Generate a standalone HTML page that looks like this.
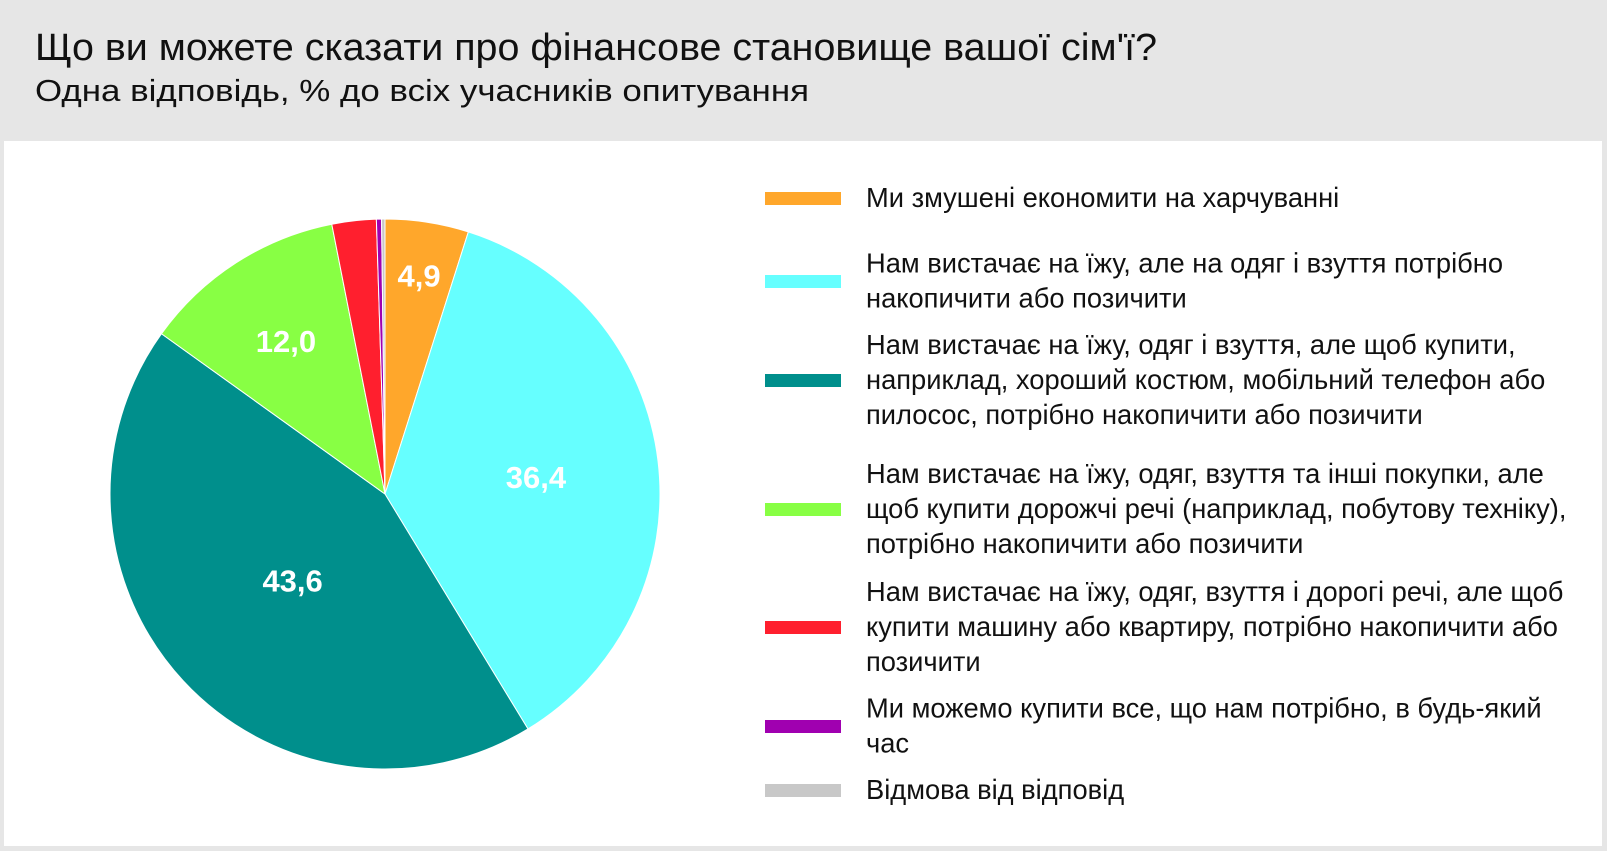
<!DOCTYPE html>
<html><head><meta charset="utf-8">
<style>
body{margin:0;width:1607px;height:851px;background:#e6e6e6;font-family:"Liberation Sans","DejaVu Sans",sans-serif;overflow:hidden;position:relative}
#panel{position:absolute;left:4px;top:141px;width:1598px;height:705px;background:#fff}
svg{position:absolute;left:0;top:0}
</style></head><body>
<div id="panel"></div>
<svg id="chart" width="1607" height="851">
<text x="35" y="60" font-size="38" fill="#111" textLength="1122" lengthAdjust="spacingAndGlyphs">Що ви можете сказати про фінансове становище вашої сім'ї?</text>
<text x="35" y="101" font-size="31" fill="#111" textLength="774" lengthAdjust="spacingAndGlyphs">Одна відповідь, % до всіх учасників опитування</text>
</svg>
<script>
const categories=["Ми змушені економити на харчуванні","Нам вистачає на їжу, але на одяг і взуття потрібно\nнакопичити або позичити","Нам вистачає на їжу, одяг і взуття, але щоб купити,\nнаприклад, хороший костюм, мобільний телефон або\nпилосос, потрібно накопичити або позичити","Нам вистачає на їжу, одяг, взуття та інші покупки, але\nщоб купити дорожчі речі (наприклад, побутову техніку),\nпотрібно накопичити або позичити","Нам вистачає на їжу, одяг, взуття і дорогі речі, але щоб\nкупити машину або квартиру, потрібно накопичити або\nпозичити","Ми можемо купити все, що нам потрібно, в будь-який\nчас","Відмова від відповід"];
const values=[4.9,36.4,43.6,12.0,2.6,0.3,0.2];
const labels=["4,9","36,4","43,6","12,0","","",""];
const colors=["#ffa72b","#66ffff","#008f8c","#88ff44","#ff1f2e","#a000b0","#c8c8c8"];
const labelR=[222,152,126,183,0,0,0];
const legendY=[198,281,380,509,627,726,790];
const svg=document.getElementById('chart');const NS="http://www.w3.org/2000/svg";
const cx=385,cy=494,r=275;
const total=values.reduce((a,b)=>a+b,0);
function pt(a,rr){return [cx+rr*Math.sin(a),cy-rr*Math.cos(a)];}
let a0=0;
values.forEach((v,i)=>{
  const a1=a0+v/total*2*Math.PI;
  const p0=pt(a0,r),p1=pt(a1,r);
  const path=document.createElementNS(NS,'path');
  path.setAttribute('d',`M${cx},${cy}L${p0[0]},${p0[1]}A${r},${r} 0 ${a1-a0>Math.PI?1:0} 1 ${p1[0]},${p1[1]}Z`);
  path.setAttribute('fill',colors[i]);path.setAttribute('stroke','#fff');path.setAttribute('stroke-width','1');
  
  
  svg.appendChild(path);
  if(labels[i]){
    const m=(a0+a1)/2;const lp=pt(m,labelR[i]);
    const t=document.createElementNS(NS,'text');
    t.setAttribute('x',lp[0]);t.setAttribute('y',lp[1]+12);t.setAttribute('text-anchor','middle');
    t.setAttribute('font-size','31');t.setAttribute('font-weight','bold');t.setAttribute('fill','#fff');
    t.textContent=labels[i];
    
    
    svg.appendChild(t);
  }
  a0=a1;
});
categories.forEach((c,i)=>{
  const y=legendY[i];
  const rect=document.createElementNS(NS,'rect');
  rect.setAttribute('x',765);rect.setAttribute('y',y-6);rect.setAttribute('width',76);rect.setAttribute('height',13);rect.setAttribute('fill',colors[i]);
  
  
  svg.appendChild(rect);
  const lines=c.split('\n');
  const t=document.createElementNS(NS,'text');
  t.setAttribute('font-size','27.3');t.setAttribute('fill','#111');
  
  
  const start=y-(lines.length-1)*35/2;
  lines.forEach((l,j)=>{const ts=document.createElementNS(NS,'tspan');ts.setAttribute('x',866);ts.setAttribute('y',start+j*35+9);ts.textContent=l;t.appendChild(ts);});
  svg.appendChild(t);
});
</script>
</body></html>
